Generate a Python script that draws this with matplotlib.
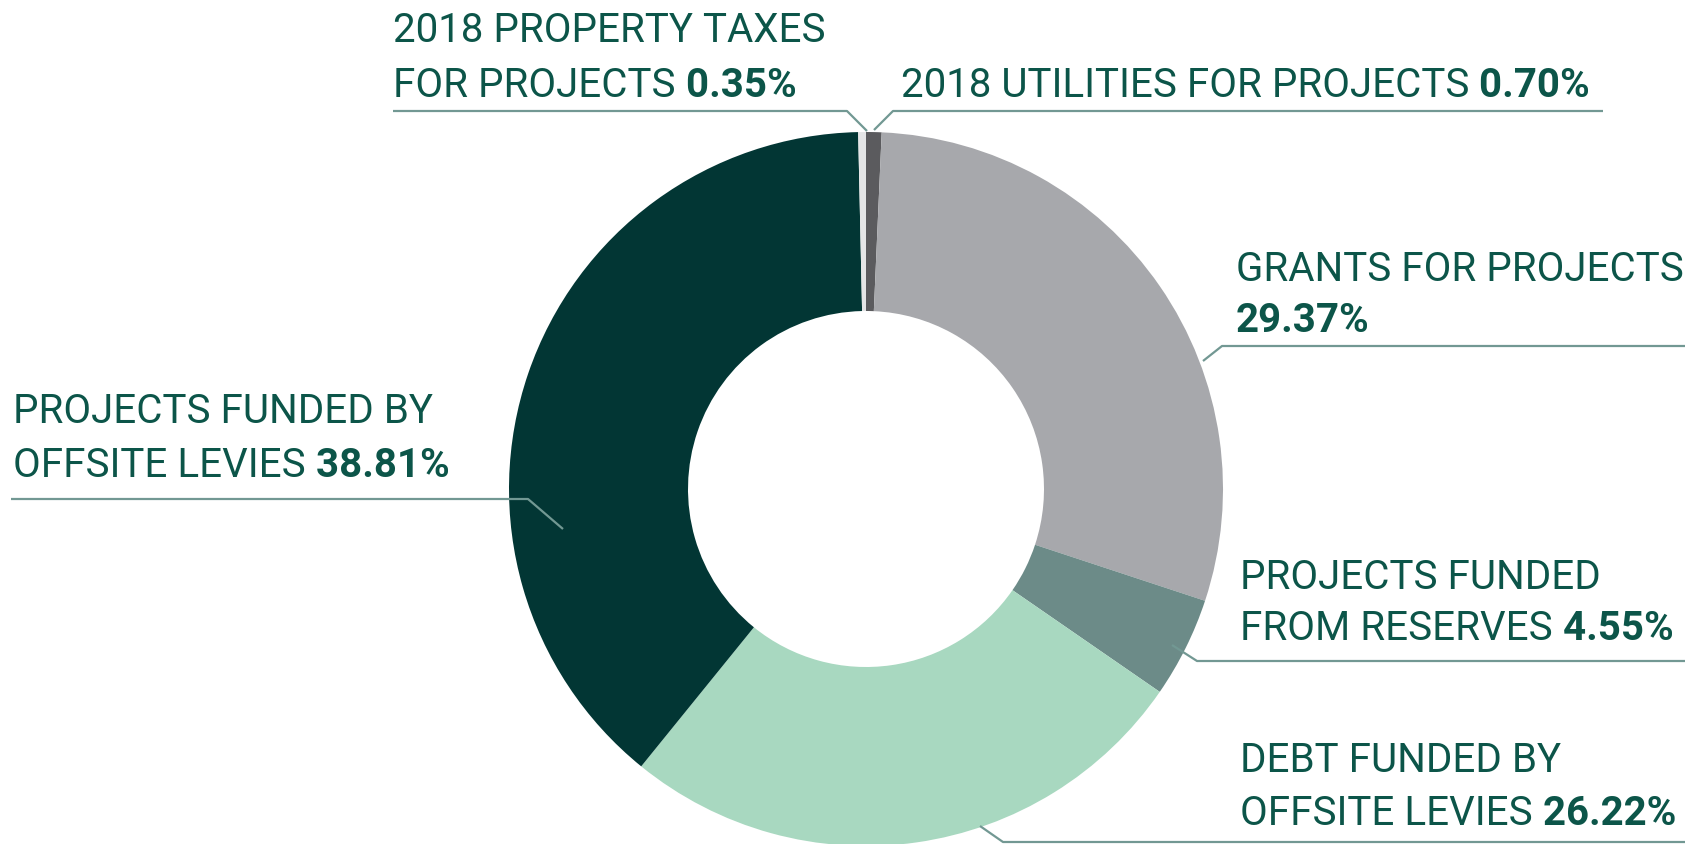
import matplotlib
matplotlib.use("Agg")
import matplotlib.pyplot as plt
import numpy as np

# slices, clockwise from 12 o'clock
categories = ["2018 UTILITIES FOR PROJECTS", "GRANTS FOR PROJECTS",
              "PROJECTS FUNDED FROM RESERVES", "DEBT FUNDED BY OFFSITE LEVIES",
              "PROJECTS FUNDED BY OFFSITE LEVIES", "2018 PROPERTY TAXES FOR PROJECTS"]
shares = [0.70, 29.37, 4.55, 26.22, 38.81, 0.35]
pct_labels = ["0.70%", "29.37%", "4.55%", "26.22%", "38.81%", "0.35%"]
colors = ["#5b5b5e", "#a7a8ac", "#6c8b88", "#a8d8c0", "#023634", "#e4e5e6"]

W, H = 1707, 845
TXT = "#0c5549"
LINE = "#729893"
FONT = ["Liberation Sans Narrow", "Roboto", "DejaVu Sans"]
FS = 29

fig = plt.figure(figsize=(W / 100, H / 100), dpi=100)
ax = fig.add_axes([0, 0, 1, 1])

# y axis runs downward so layout numbers read like pixels
cx, cy, R = 866, 490, 357
ax.pie(shares, colors=colors, startangle=-90, counterclock=True,
       center=(cx, cy), radius=R,
       wedgeprops=dict(width=R - 178, linewidth=0))
ax.set_xlim(0, W)
ax.set_ylim(H, 0)
ax.set_aspect("equal")
ax.axis("off")

# label layout: text lines (last line gets the bold percent), x, baselines,
# leader: anchor point, elbow, end of horizontal rule
layout = {
    0: dict(lines=["2018 UTILITIES FOR PROJECTS"], x=901, y=[97],
            leader=[(874, 131), (893, 112), (1603, 112)]),
    1: dict(lines=["GRANTS FOR PROJECTS", ""], x=1236, y=[281, 332],
            leader=[(1203, 362), (1222, 347), (1685, 347)]),
    2: dict(lines=["PROJECTS FUNDED", "FROM RESERVES"], x=1240, y=[589, 640],
            leader=[(1172, 646), (1197, 662), (1685, 662)]),
    3: dict(lines=["DEBT FUNDED BY", "OFFSITE LEVIES"], x=1240, y=[772, 825],
            leader=[(980, 827), (1003, 843), (1685, 843)]),
    4: dict(lines=["PROJECTS FUNDED BY", "OFFSITE LEVIES"], x=13, y=[423, 477],
            leader=[(563, 530), (528, 500), (11, 500)]),
    5: dict(lines=["2018 PROPERTY TAXES", "FOR PROJECTS"], x=393, y=[42, 97],
            leader=[(867, 132), (847, 112), (393, 112)]),
}

for i, lay in layout.items():
    n = len(lay["lines"])
    for j, (line, by) in enumerate(zip(lay["lines"], lay["y"])):
        last = j == n - 1
        if last and not line:
            # percent on its own line
            ax.text(lay["x"], by, pct_labels[i], fontsize=FS, color=TXT,
                    family=FONT, fontweight="bold", va="baseline", ha="left")
            continue
        t = ax.text(lay["x"], by, line, fontsize=FS, color=TXT,
                    family=FONT, va="baseline", ha="left")
        if last:
            ax.annotate(" " + pct_labels[i], xy=(1, 0), xycoords=t,
                        fontsize=FS, color=TXT, family=FONT,
                        fontweight="bold", va="bottom", ha="left")
    xs, ys = zip(*lay["leader"])
    ax.plot(xs, ys, color=LINE, lw=1.6, solid_capstyle="butt")

fig.savefig("out.png", dpi=100)
